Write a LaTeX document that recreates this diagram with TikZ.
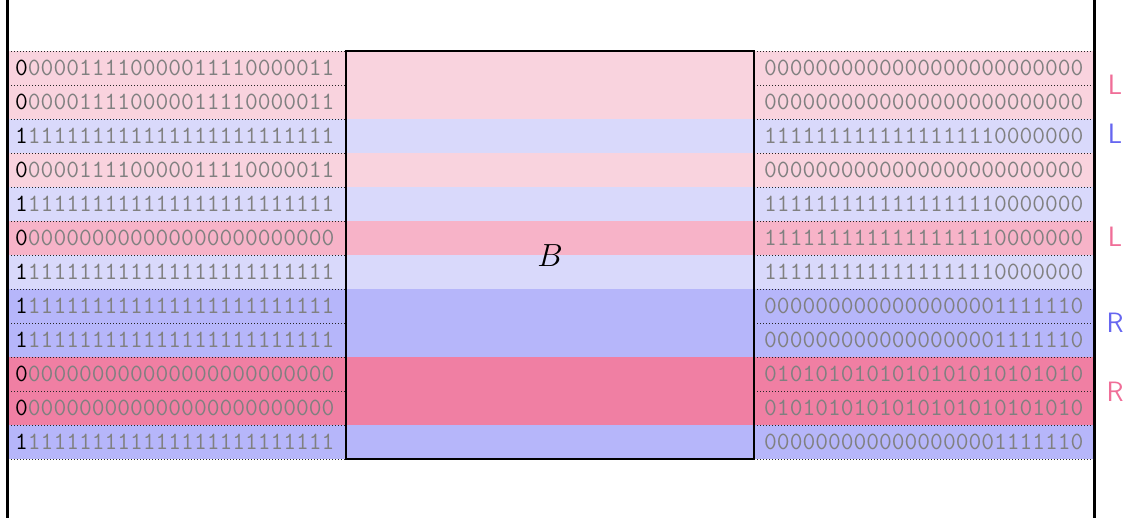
\RequirePackage{fix-cm}
\documentclass[tikz,border=0pt]{standalone}
\definecolor{pkA}{HTML}{F9D3DE}
\definecolor{pkB}{HTML}{F7B3C8}
\definecolor{pkC}{HTML}{F07FA3}
\definecolor{blA}{HTML}{D9D9FB}
\definecolor{blB}{HTML}{B6B6FA}
\definecolor{labpink}{HTML}{F06E98}
\definecolor{labblue}{HTML}{6666F0}
\definecolor{bitgray}{HTML}{808080}
\begin{document}
\begin{tikzpicture}[x=1pt,y=-1pt,
  bits/.style={anchor=base west, inner sep=0pt, font=\fontsize{24.8}{24.8}\selectfont\ttfamily, text=bitgray},
  lab/.style={inner sep=0pt, font=\fontsize{28}{28}\selectfont\sffamily},
  sep/.style={line width=0.6pt, dash pattern=on 0.8pt off 2.2pt, black!85},
  frame/.style={line width=3pt, black},
  bbox/.style={draw, line width=2pt, inner sep=0pt, minimum width=408pt, minimum height=408pt}]
\useasboundingbox (0,0) rectangle (1128,518);
% row backgrounds and bit strings
\foreach \i/\fc/\a/\b/\rt [evaluate=\i as \y using 51+34*(\i-1)] in {
  1/pkA/0/000011110000011110000011/0000000000000000000000000,
  2/pkA/0/000011110000011110000011/0000000000000000000000000,
  3/blA/1/111111111111111111111111/1111111111111111110000000,
  4/pkA/0/000011110000011110000011/0000000000000000000000000,
  5/blA/1/111111111111111111111111/1111111111111111110000000,
  6/pkB/0/000000000000000000000000/1111111111111111110000000,
  7/blA/1/111111111111111111111111/1111111111111111110000000,
  8/blB/1/111111111111111111111111/0000000000000000001111110,
  9/blB/1/111111111111111111111111/0000000000000000001111110,
  10/pkC/0/000000000000000000000000/0101010101010101010101010,
  11/pkC/0/000000000000000000000000/0101010101010101010101010,
  12/blB/1/111111111111111111111111/0000000000000000001111110}{
  \fill[\fc] (7,\y) rectangle (1094,\y+34);
  \node[bits] (l\i) at (15,\y+24.5) {\textcolor{black}{\a}\b};
  \node[bits] (r\i) at (764,\y+24.5) {\rt};
}
% dotted separators
\foreach \k [evaluate=\k as \y using 51+34*\k] in {0,...,12}{
  \draw[sep] (8,\y) -- (346,\y);
  \draw[sep] (754,\y) -- (1094,\y);
}
% box B
\node[bbox] (box) at (550,255) {};
\node[font=\fontsize{32}{32}\selectfont] (Blab) at (550,256) {$B$};
% outer vertical lines
\draw[frame] (7,0) -- (7,518);
\draw[frame] (1094,0) -- (1094,518);
% labels
\node[lab, text=labpink] (L1) at (1115,85) {L};
\node[lab, text=labblue] (L2) at (1115,134) {L};
\node[lab, text=labpink] (L3) at (1115,237) {L};
\node[lab, text=labblue] (R1) at (1115,323) {R};
\node[lab, text=labpink] (R2) at (1115,392) {R};
\end{tikzpicture}
\end{document}
